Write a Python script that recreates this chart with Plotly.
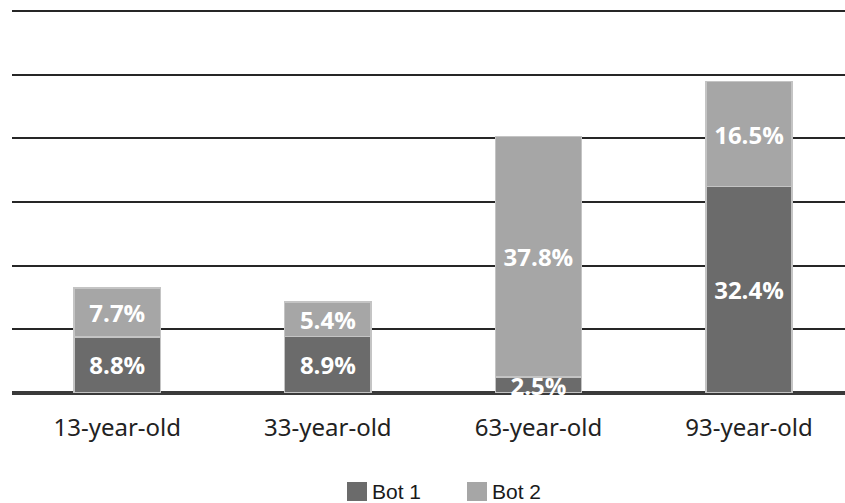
import plotly.graph_objects as go

categories = ["13-year-old", "33-year-old", "63-year-old", "93-year-old"]
bot1 = [8.8, 8.9, 2.5, 32.4]
bot2 = [7.7, 5.4, 37.8, 16.5]
y_ticks = [0, 10, 20, 30, 40, 50, 60]

series = [("Bot 1", bot1, "#6b6b6b"), ("Bot 2", bot2, "#a6a6a6")]

W, H = 845, 503
ML, MR, MT, MB = 12, 0, 9, 110
PW, PH = W - ML - MR, H - MT - MB

def px(p):
    return (p - ML) / PW

def py(q):
    return (H - MB - q) / PH

fig = go.Figure()
for name, vals, col in series:
    fig.add_trace(go.Bar(
        x=categories, y=vals, name=name, showlegend=False,
        marker=dict(color=col, line=dict(color="#c4c4c4", width=1.5)),
        text=[f"{v}%" for v in vals],
        textposition="inside", insidetextanchor="middle",
        constraintext="none",
        textfont=dict(family="Open Sans", size=24, color="white", weight="bold"),
        cliponaxis=False,
    ))

# manual legend with larger swatches
shapes, annotations = [], []
legend_x = [347, 467]
for (name, vals, col), lx in zip(series, legend_x):
    shapes.append(dict(type="rect", xref="paper", yref="paper",
                       x0=px(lx), x1=px(lx + 20), y0=py(501), y1=py(482),
                       fillcolor=col, line=dict(width=0)))
    annotations.append(dict(xref="paper", yref="paper", x=px(lx + 23), y=py(491.5),
                            xanchor="left", yanchor="middle", showarrow=False,
                            text=name, font=dict(family="Liberation Sans", size=21, color="#1a1a1a")))

fig.update_layout(
    barmode="stack", bargap=0.59,
    width=W, height=H,
    margin=dict(l=ML, r=MR, t=MT, b=MB),
    paper_bgcolor="white", plot_bgcolor="white",
    showlegend=False,
    shapes=shapes, annotations=annotations,
    xaxis=dict(range=[-0.5, 3.456], showgrid=False, ticks="", showline=False,
               ticklabelstandoff=18,
               tickfont=dict(family="Noto Sans", size=24, color="#222")),
    yaxis=dict(range=[0, 60.3], tickvals=y_ticks, showticklabels=False,
               showgrid=True, gridcolor="#262626", gridwidth=2,
               zeroline=True, zerolinecolor="#3a3a3a", zerolinewidth=4,
               showline=False),
)
fig.write_html("out.html")
